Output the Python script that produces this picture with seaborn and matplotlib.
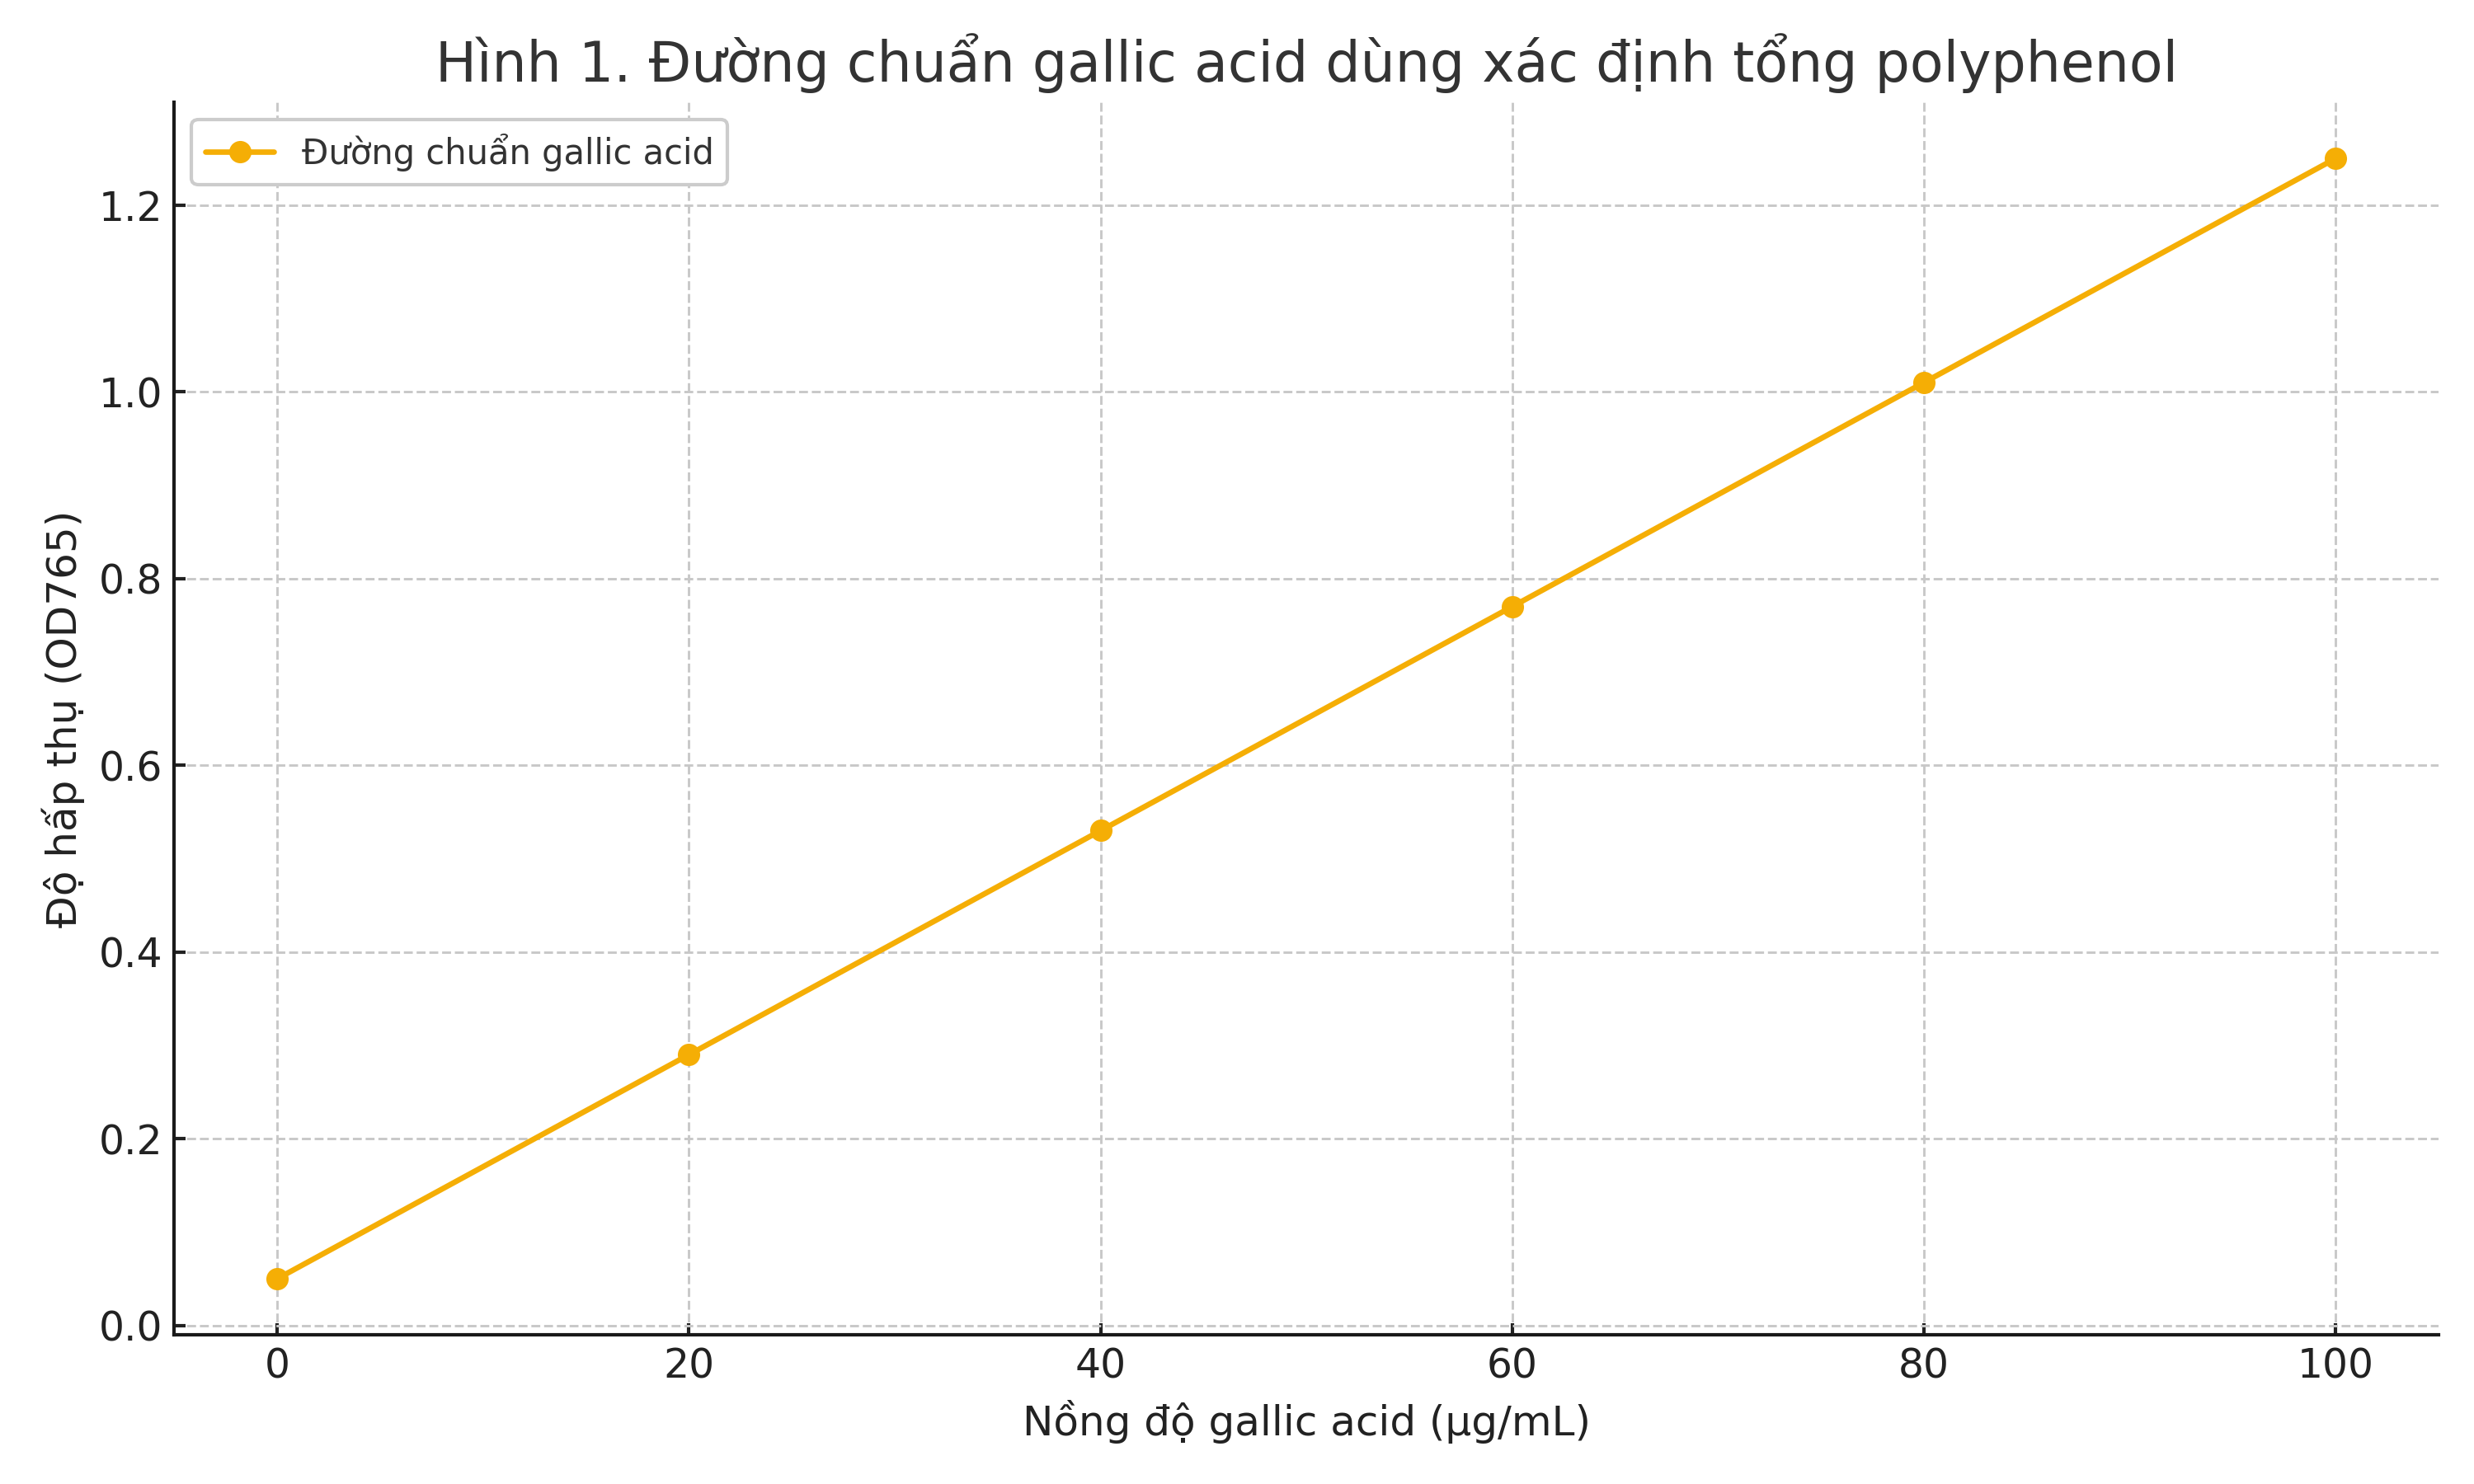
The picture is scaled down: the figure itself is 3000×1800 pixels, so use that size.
import matplotlib
matplotlib.use("Agg")
import matplotlib.pyplot as plt
import seaborn as sns
import pandas as pd

concentration = [0, 20, 40, 60, 80, 100]
absorbance = [0.05, 0.29, 0.53, 0.77, 1.01, 1.25]
series_label = "Đường chuẩn gallic acid"
title = "Hình 1. Đường chuẩn gallic acid dùng xác định tổng polyphenol"
xlabel = "Nồng độ gallic acid (µg/mL)"
ylabel = "Độ hấp thụ (OD765)"
yticks = [0.0, 0.2, 0.4, 0.6, 0.8, 1.0, 1.2]

sns.set_theme(style="white")
plt.rcParams['font.family'] = ['DejaVu Sans']

df = pd.DataFrame({"x": concentration, "y": absorbance})

fig, ax = plt.subplots(figsize=(10, 6), dpi=300)
color = "#F5AE05"
sns.lineplot(data=df, x="x", y="y", ax=ax, color=color, marker="o",
             markersize=6.5, markeredgewidth=0, linewidth=1.6, label=series_label)

ax.set_title(title, fontsize=16, color="#333333", pad=6)
ax.set_xlabel(xlabel, fontsize=12, color="#222222")
ax.set_ylabel(ylabel, fontsize=12, color="#222222")
ax.set_xticks(concentration)
ax.set_yticks(yticks)
ax.set_yticklabels([f"{v:.1f}" for v in yticks])
ax.tick_params(axis="both", direction="in", length=3.4, width=1, labelsize=11.7,
               colors="#222222", left=True, bottom=True)
ax.grid(True, linestyle="--", color="#c8c8c8", linewidth=0.7)
for s in ["top", "right"]:
    ax.spines[s].set_visible(False)
for s in ["left", "bottom"]:
    ax.spines[s].set_color("#1a1a1a")
    ax.spines[s].set_linewidth(1.0)

leg = ax.legend(loc="upper left", fontsize=10, frameon=True, fancybox=True,
                edgecolor="#cccccc", framealpha=1)
for t in leg.get_texts():
    t.set_color("#333333")

fig.subplots_adjust(left=0.0705, right=0.9857, bottom=0.1006, top=0.931)
fig.savefig("out.png", dpi=300)
